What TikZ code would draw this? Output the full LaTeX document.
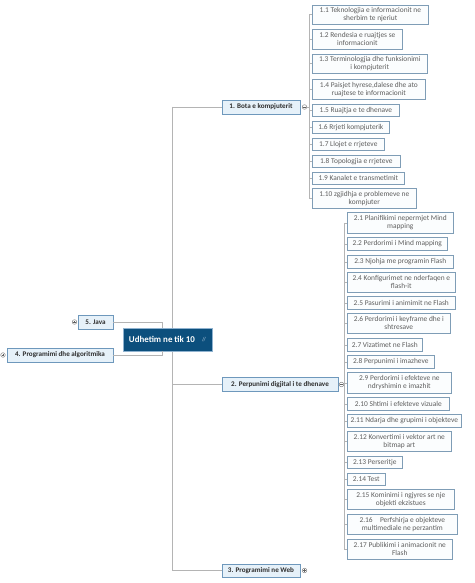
\documentclass[tikz,border=0pt]{standalone}
\usepackage{fontspec}
\setmainfont{Carlito}
\definecolor{subline}{HTML}{7F9DB6}
\definecolor{subfill}{HTML}{FBFDFE}
\definecolor{subtext}{HTML}{5E5E5E}
\definecolor{topline}{HTML}{6E98BC}
\definecolor{topfill}{HTML}{E6F1F9}
\definecolor{toptext}{HTML}{2E2E2E}
\definecolor{cfill}{HTML}{0C4F7D}
\definecolor{cline}{HTML}{8FB2CF}
\definecolor{conn}{HTML}{B4B4B4}
\definecolor{knob}{HTML}{8A8A8A}
\tikzset{
  sub/.style={draw=subline, fill=subfill, text=subtext, line width=0.6pt,
    font=\fontsize{7.4}{8}\selectfont, align=center, inner sep=0.5pt,
    anchor=north west},
  topic/.style={draw=topline, fill=topfill, text=toptext, line width=0.6pt,
    font=\fontsize{7.1}{8}\selectfont\bfseries, align=center, inner sep=0.5pt},
  central/.style={draw=cline, fill=cfill, text=white, line width=0.8pt,
    font=\fontsize{8.9}{10}\selectfont\bfseries, inner sep=1pt},
  connline/.style={draw=conn, line width=0.6pt},
  knobc/.style={circle, draw=knob, fill=white, line width=0.5pt, minimum size=4.6pt, inner sep=0pt},
  knobmark/.style={draw=knob!70!black, line width=0.6pt}
}
\newcommand{\subbox}[6]{\node[sub, minimum width=#4pt, minimum height=#5pt] (#1) at (#2,#3) {#6};}
\begin{document}
\begin{tikzpicture}[x=1pt,y=-1pt]
\useasboundingbox (0,0) rectangle (474,583);
\fill[white] (0,0) rectangle (474,583);

% spines and coordinates
\coordinate (tr) at (172,0);
\coordinate (jl) at (162,0);
\coordinate (s1) at (309,0);
\coordinate (s2) at (344,0);

% group 1 subtopics
\subbox{n11}{312}{5}{116}{19}{1.1 Teknologjia e informacionit ne\\sherbim te njeriut}
\subbox{n12}{312}{29}{90}{20}{1.2 Rendesia e ruajtjes se\\informacionit}
\subbox{n13}{312}{54}{115}{19}{1.3 Terminologjia dhe funksionimi\\i kompjuterit}
\subbox{n14}{312}{79}{113}{20}{1.4 Paisjet hyrese,dalese dhe ato\\ruajtese te informacionit}
\subbox{n15}{312}{104}{87}{12}{1.5 Ruajtja e te dhenave}
\subbox{n16}{312}{121}{77}{12}{1.6 Rrjeti kompjuterik}
\subbox{n17}{312}{138}{72}{12}{1.7 Llojet e rrjeteve}
\subbox{n18}{312}{155}{88}{12}{1.8 Topologjia e rrjeteve}
\subbox{n19}{312}{172}{92}{12}{1.9 Kanalet e transmetimit}
\subbox{n110}{312}{188}{104}{20}{1.10 zgjidhja e problemeve ne\\kompjuter}

% group 2 subtopics
\subbox{n21}{347}{212}{106}{21}{2.1 Planifikimi nepermjet Mind\\mapping}
\subbox{n22}{347}{237}{100}{13}{2.2 Perdorimi i Mind mapping}
\subbox{n23}{347}{255}{106}{13}{2.3 Njohja me programin Flash}
\subbox{n24}{347}{272}{108}{20}{2.4 Konfigurimet ne nderfaqen e\\flash-it}
\subbox{n25}{347}{296}{108}{13}{2.5 Pasurimi i animimit ne Flash}
\subbox{n26}{347}{313}{103}{20}{2.6 Perdorimi i keyframe dhe i\\shtresave}
\subbox{n27}{347}{338}{75}{13}{2.7 Vizatimet ne Flash}
\subbox{n28}{347}{355}{87}{13}{2.8 Perpunimi i imazheve}
\subbox{n29}{347}{372}{104}{21}{2.9 Perdorimi i efekteve ne\\ndryshimin e imazhit}
\subbox{n210}{347}{397}{102}{13}{2.10 Shtimi i efekteve vizuale}
\subbox{n211}{347}{414}{114}{13}{2.11 Ndarja dhe grupimi i objekteve}
\subbox{n212}{347}{431}{104}{20}{2.12 Konvertimi i vektor art ne\\bitmap art}
\subbox{n213}{347}{456}{55}{12}{2.13 Perseritje}
\subbox{n214}{347}{473}{38}{12}{2.14 Test}
\subbox{n215}{347}{489}{107}{20}{2.15 Kominimi i ngjyres se nje\\objekti ekzistues}
\subbox{n216}{347}{514}{110}{20}{2.16\quad Perfshirja e objekteve\\multimediale ne perzantim}
\subbox{n217}{347}{539}{105}{20}{2.17 Publikimi i animacionit ne\\Flash}

% main topics
\node[topic, minimum width=78pt, minimum height=14pt] (t1) at (261,107) {1. Bota e kompjuterit};
\node[topic, minimum width=116pt, minimum height=14pt] (t2) at (280,384.5) {2. Perpunimi digjital i te dhenave};
\node[topic, minimum width=78pt, minimum height=13pt] (t3) at (261,570.5) {3. Programimi ne Web};
\node[topic, minimum width=35pt, minimum height=14pt] (t5) at (95.5,322) {5. Java};
\node[topic, minimum width=106pt, minimum height=14pt] (t4) at (60,355) {4. Programimi dhe algoritmika};

% trunk (behind central node)
\draw[connline] (tr |- t1.west) -- (tr |- t3.west);
\draw[connline] (tr |- t1.west) -- (t1.west);
\draw[connline] (tr |- t2.west) -- (t2.west);
\draw[connline] (tr |- t3.west) -- (t3.west);

% central node
\node[central, minimum width=89pt, minimum height=23pt] (c) at (167.5,339.5) {Udhetim ne tik 10\kern11pt};
\node[text=cline!70!white, font=\fontsize{6}{6}\selectfont, inner sep=0pt] (cicon) at (204,340) {/\kern-1pt/};

% left connectors
\draw[connline] (t5.east) -| (jl |- c.north);
\draw[connline] (t4.east) -| (jl |- c.south);

% knobs
\node[knobc] (k1) at (304.5,107) {};
\node[knobc] (k2) at (341.5,384.5) {};
\node[knobc] (k3) at (304.5,570.5) {};
\node[knobc] (k5) at (74.5,322) {};
\node[knobc] (k4) at (3,355) {};
\foreach \k in {k1,k2,k3,k4,k5} {\draw[knobmark] ([xshift=-1.4pt]\k.center) -- ([xshift=1.4pt]\k.center);}
\foreach \k in {k3,k4,k5} {\draw[knobmark] ([yshift=-1.4pt]\k.center) -- ([yshift=1.4pt]\k.center);}

% group 1 spine
\draw[connline] (k1.east) -- (s1 |- k1.east);
\draw[connline] (s1 |- n11.west) -- (s1 |- n110.west);
\foreach \n in {n11,n12,n13,n14,n15,n16,n17,n18,n19,n110} {\draw[connline] (s1 |- \n.west) -- (\n.west);}

% group 2 spine
\draw[connline] (s2 |- n21.west) -- (s2 |- n217.west);
\foreach \n in {n21,n22,n23,n24,n25,n26,n27,n28,n29,n210,n211,n212,n213,n214,n215,n216,n217} {\draw[connline] (s2 |- \n.west) -- (\n.west);}
\end{tikzpicture}
\end{document}
